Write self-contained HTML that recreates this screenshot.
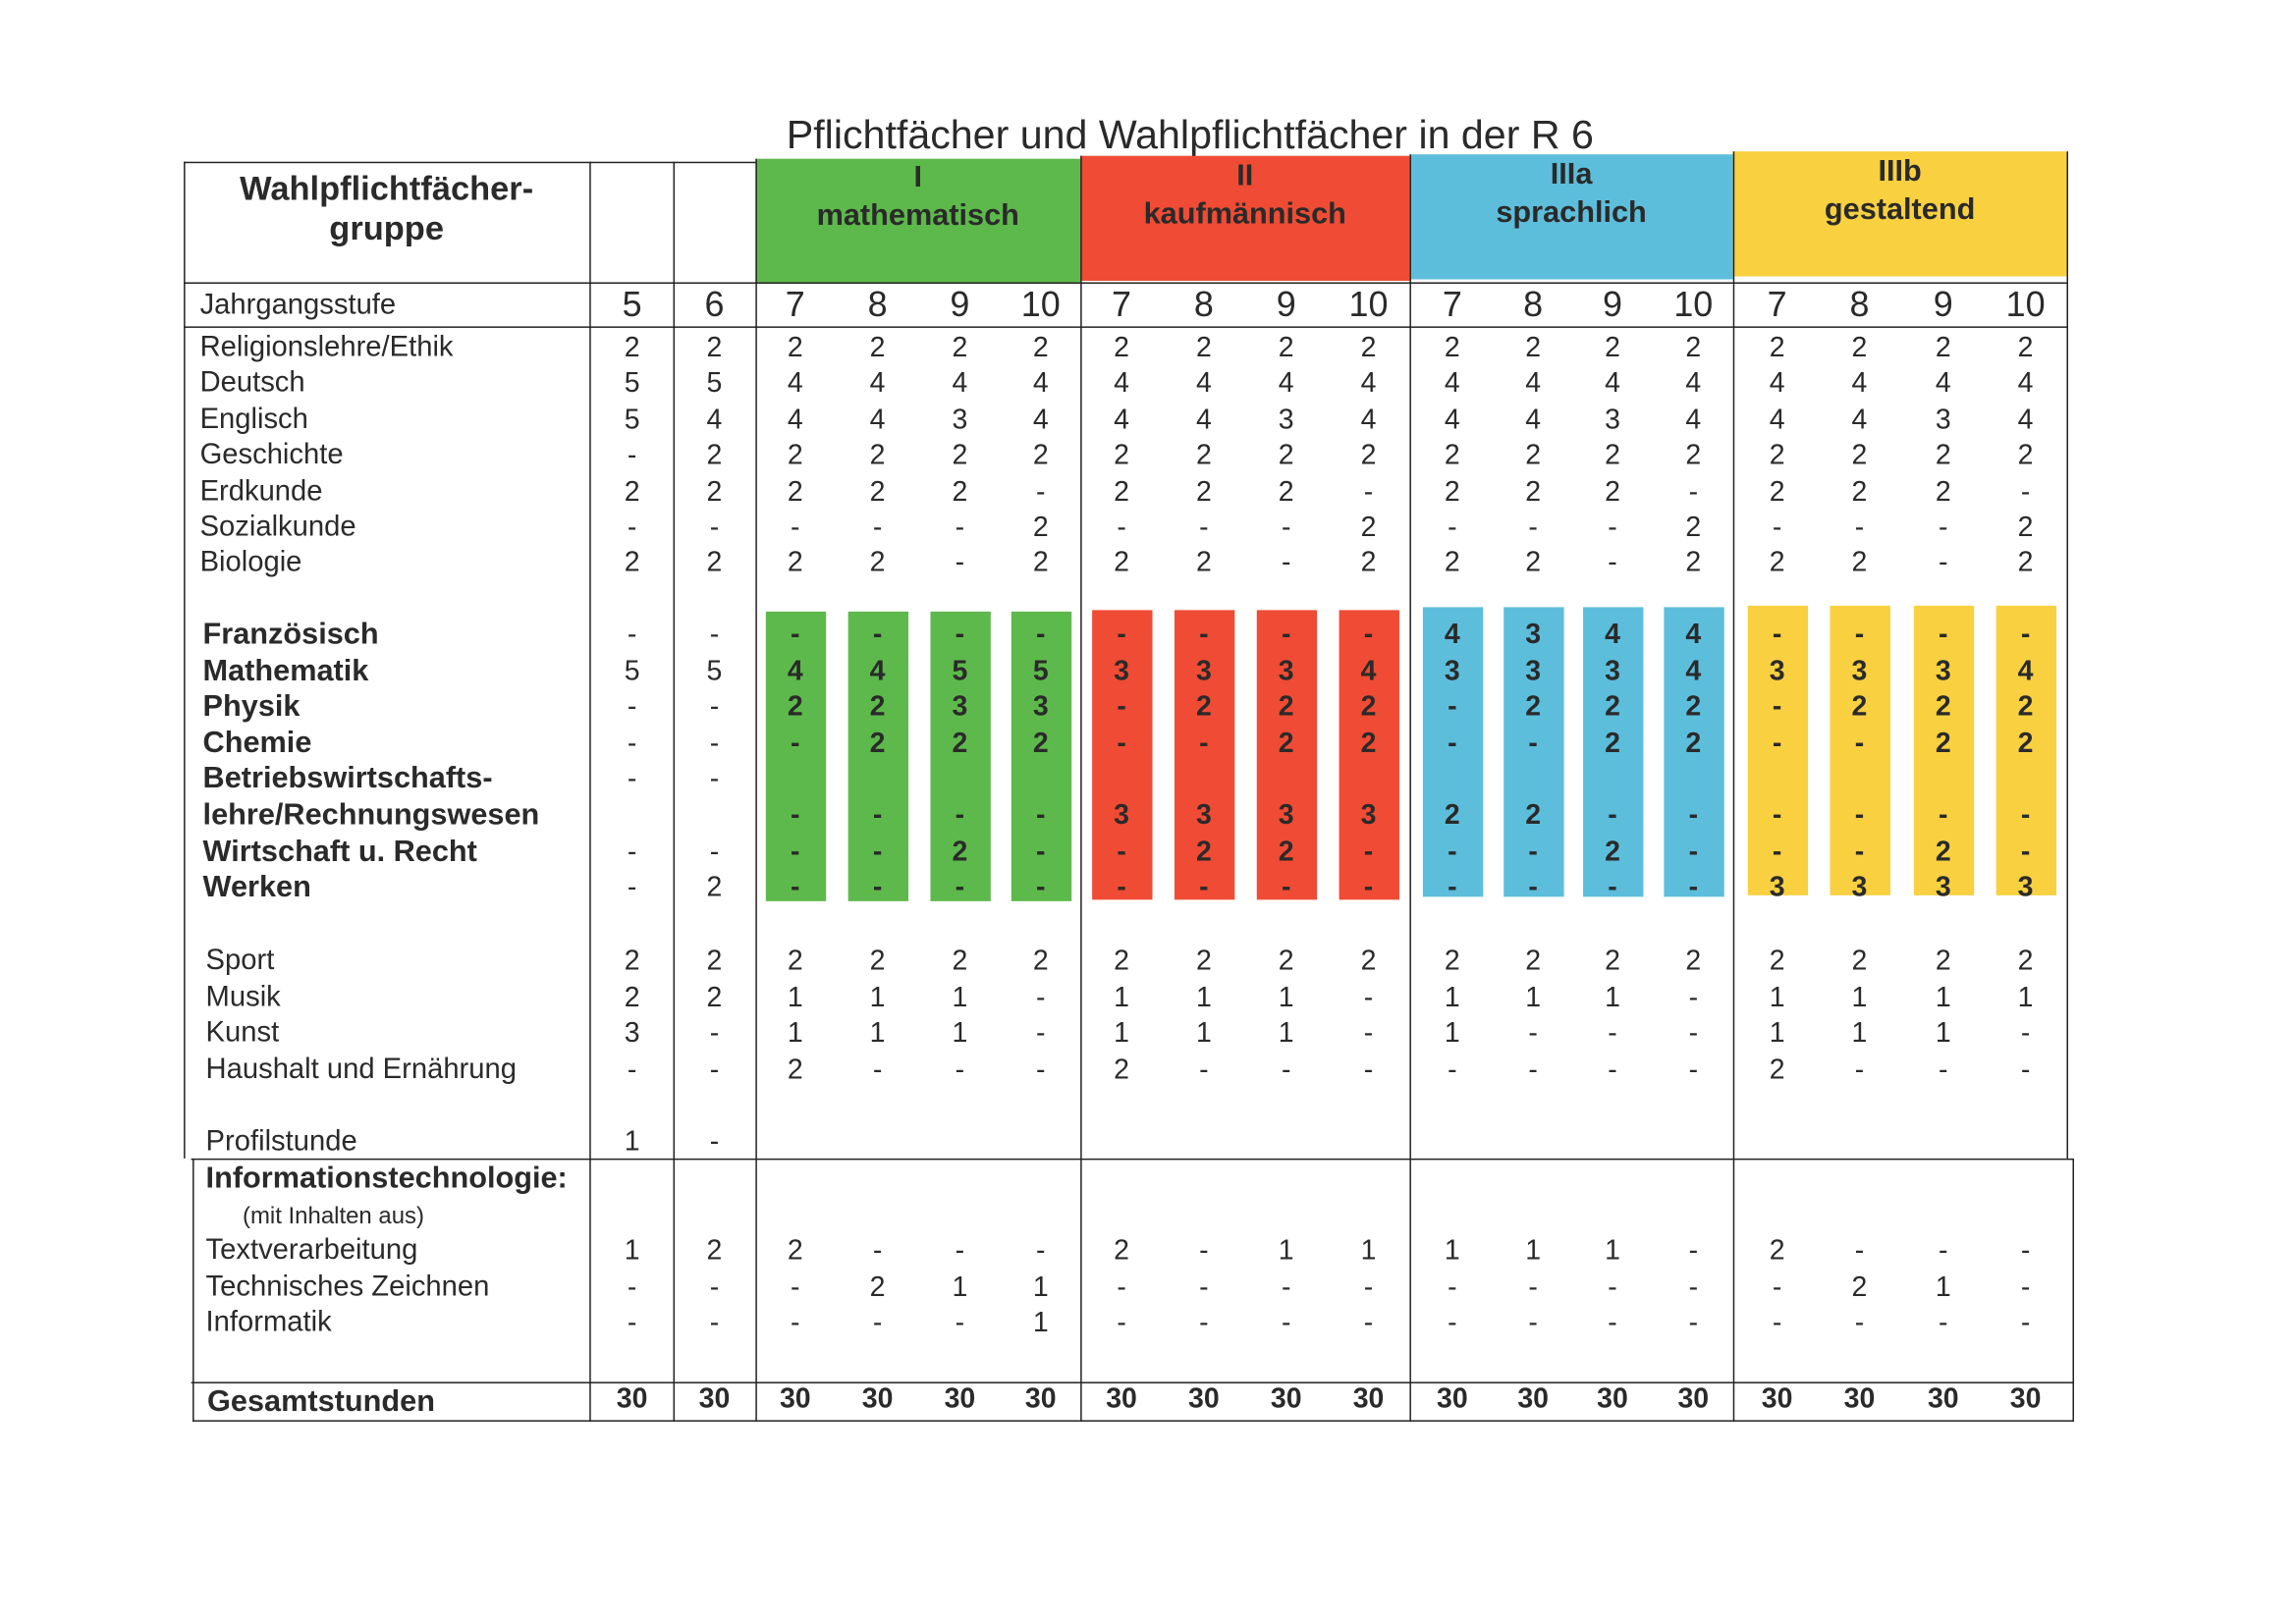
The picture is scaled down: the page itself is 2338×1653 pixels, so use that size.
<!DOCTYPE html>
<html><head><meta charset="utf-8"><style>
html,body{margin:0;padding:0;background:#fff;}
body{width:2338px;height:1653px;overflow:hidden;position:relative;}
#w{position:absolute;left:0;top:0;width:1562px;height:1104px;transform:scale(1.4968,1.4973);transform-origin:0 0;font-family:"Liberation Sans",sans-serif;color:#2a2a2a;}
.a{position:absolute;white-space:nowrap;}
.hl{position:absolute;height:1.3px;background:#222;}
.vl{position:absolute;width:1.3px;background:#222;}
.c{position:absolute;transform:translate(-50%,-50%);font-size:19px;line-height:1;}
.lab{position:absolute;font-size:19.5px;line-height:1;transform:translateY(-50%);}
.b{font-weight:bold;}
.lab.b{font-size:20.5px;}
</style></head><body>
<div id="w">
<div class="a" style="left:535px;top:76px;font-size:27.5px;">Pflichtfächer und Wahlpflichtfächer in der R 6</div>
<div class="a" style="left:514px;top:108px;width:221px;height:84px;background:#5db94b"></div>
<div class="a" style="left:735px;top:106px;width:224px;height:85px;background:#f04b34"></div>
<div class="a" style="left:959px;top:105px;width:220px;height:85px;background:#5cbedb"></div>
<div class="a" style="left:1179px;top:103px;width:227px;height:85px;background:#f8d040"></div>
<div class="a b" style="left:125px;top:115px;width:276px;text-align:center;font-size:23px;line-height:27px;">Wahlpflichtfächer-<br>gruppe</div>
<div class="a b" style="left:514px;top:108px;width:221px;text-align:center;font-size:20.5px;line-height:26px;">I<br>mathematisch</div>
<div class="a b" style="left:735px;top:107px;width:224px;text-align:center;font-size:20.5px;line-height:26px;">II<br>kaufmännisch</div>
<div class="a b" style="left:959px;top:106px;width:220px;text-align:center;font-size:20.5px;line-height:26px;">IIIa<br>sprachlich</div>
<div class="a b" style="left:1179px;top:104px;width:227px;text-align:center;font-size:20.5px;line-height:26px;">IIIb<br>gestaltend</div>
<div id="g"></div>
</div>
<script>
// Data arrays
const grades = ["5","6","7","8","9","10","7","8","9","10","7","8","9","10","7","8","9","10"];
const coreSubjects = ["Religionslehre/Ethik","Deutsch","Englisch","Geschichte","Erdkunde","Sozialkunde","Biologie"];
const coreValues = [
 ["2","2","2","2","2","2","2","2","2","2","2","2","2","2","2","2","2","2"],
 ["5","5","4","4","4","4","4","4","4","4","4","4","4","4","4","4","4","4"],
 ["5","4","4","4","3","4","4","4","3","4","4","4","3","4","4","4","3","4"],
 ["-","2","2","2","2","2","2","2","2","2","2","2","2","2","2","2","2","2"],
 ["2","2","2","2","2","-","2","2","2","-","2","2","2","-","2","2","2","-"],
 ["-","-","-","-","-","2","-","-","-","2","-","-","-","2","-","-","-","2"],
 ["2","2","2","2","-","2","2","2","-","2","2","2","-","2","2","2","-","2"]];
const electiveSubjects = ["Französisch","Mathematik","Physik","Chemie","Betriebswirtschafts-","lehre/Rechnungswesen","Wirtschaft u. Recht","Werken"];
const electiveValues = [
 ["-","-","-","-","-","-","-","-","-","-","4","3","4","4","-","-","-","-"],
 ["5","5","4","4","5","5","3","3","3","4","3","3","3","4","3","3","3","4"],
 ["-","-","2","2","3","3","-","2","2","2","-","2","2","2","-","2","2","2"],
 ["-","-","-","2","2","2","-","-","2","2","-","-","2","2","-","-","2","2"],
 ["-","-","","","","","","","","","","","","","","","",""],
 ["","","-","-","-","-","3","3","3","3","2","2","-","-","-","-","-","-"],
 ["-","-","-","-","2","-","-","2","2","-","-","-","2","-","-","-","2","-"],
 ["-","2","-","-","-","-","-","-","-","-","-","-","-","-","3","3","3","3"]];
const artsSubjects = ["Sport","Musik","Kunst","Haushalt und Ernährung","","Profilstunde"];
const artsValues = [
 ["2","2","2","2","2","2","2","2","2","2","2","2","2","2","2","2","2","2"],
 ["2","2","1","1","1","-","1","1","1","-","1","1","1","-","1","1","1","1"],
 ["3","-","1","1","1","-","1","1","1","-","1","-","-","-","1","1","1","-"],
 ["-","-","2","-","-","-","2","-","-","-","-","-","-","-","2","-","-","-"],
 [],
 ["1","-"]];
const itSubjects = ["Textverarbeitung","Technisches  Zeichnen","Informatik"];
const itValues = [
 ["1","2","2","-","-","-","2","-","1","1","1","1","1","-","2","-","-","-"],
 ["-","-","-","2","1","1","-","-","-","-","-","-","-","-","-","2","1","-"],
 ["-","-","-","-","-","1","-","-","-","-","-","-","-","-","-","-","-","-"]];
const totals = ["30","30","30","30","30","30","30","30","30","30","30","30","30","30","30","30","30","30"];

// Layout
const colX = [430,486,541,597,653,708,763,819,875,931,988,1043,1097,1152,1209,1265,1322,1378];
const groupColors = ["#5db94b","#f04b34","#5cbedb","#f8d040"];
const g = document.getElementById('g');
function mk(cls, txt, style){const d=document.createElement('div');d.className=cls;if(txt!==null)d.textContent=txt;d.style.cssText=style;g.appendChild(d);return d;}

for(let i=2;i<18;i++){
  const gi=Math.floor((i-2)/4);
  const bar=mk('a',null,`left:${colX[i]-20.5}px;top:${416-gi*1.5}px;width:41px;height:${197}px;background:${groupColors[gi]}`);
  
  
}
const H=[[125,514,110],[125,1406,192],[125,1406,222],[130,1410,788],[130,1411,940],[131,1411,966]];
H.forEach(h=>{const e=mk('hl',null,`left:${h[0]}px;width:${h[1]-h[0]}px;top:${h[2]}px`);
  
  });
const V=[[125,110,788],[131,788,967],[401,110,967],[458,110,967],[514,108,967],[735,106,967],[959,105,967],[1179,103,967],[1406,103,788],[1410,788,967]];
V.forEach(v=>{const e=mk('vl',null,`left:${v[0]}px;top:${v[1]}px;height:${v[2]-v[1]}px`);
  
  });

const jl=mk('lab','Jahrgangsstufe','left:136px;top:208px;');


grades.forEach((t,i)=>{const e=mk('c',t,`left:${colX[i]}px;top:208px;font-size:24px;`);
  
  });

function block(subjects, values, y0, step, lx, bold, boldVals){
  subjects.forEach((s,r)=>{
    const y=y0+r*step;
    if(s){const l=mk('lab'+(bold?' b':''),s,`left:${lx}px;top:${y}px;`);
      
      }
    (values[r]||[]).forEach((v,i)=>{ if(v==='')return;
      const isB=boldVals&&i>=2;
      const e=mk('c'+(isB?' b':''),v,`left:${colX[i]}px;top:${y}px;`);
      
      });
  });
}
block(coreSubjects, coreValues, 237, 24.4, 136, false, false);
block(electiveSubjects, electiveValues, 432, 24.6, 138, true, true);
block(artsSubjects, artsValues, 654, 24.5, 140, false, false);
const it=mk('lab b','Informationstechnologie:','left:140px;top:802px;');


const it2=mk('lab','(mit Inhalten aus)','left:165px;top:828px;font-size:16px;');


block(itSubjects, itValues, 851, 24.5, 140, false, false);
const tl=mk('lab b','Gesamtstunden','left:141px;top:954px;');


totals.forEach((t,i)=>{const e=mk('c b',t,`left:${colX[i]}px;top:952px;`);
  
  });
</script>
</body></html>
